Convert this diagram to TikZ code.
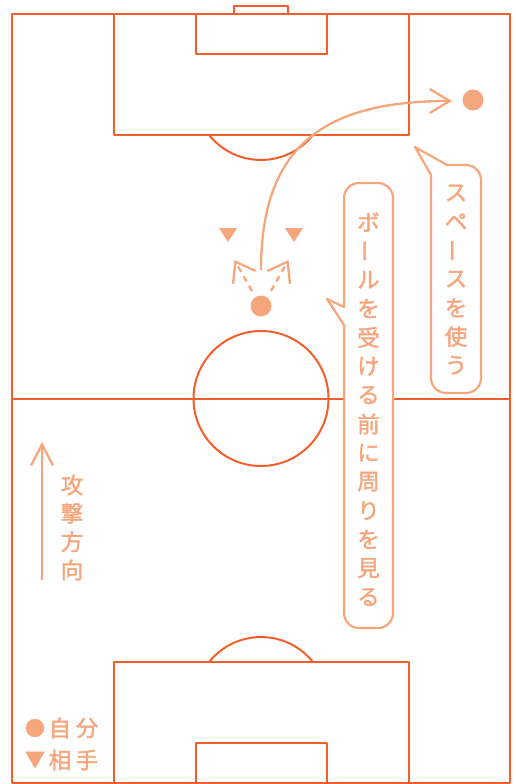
\documentclass[tikz,border=0pt]{standalone}
\usepackage{fontspec}
\newfontfamily\jpfont[FakeBold=1.6]{Noto Sans CJK JP}
\usetikzlibrary{arrows.meta}
\definecolor{fieldc}{HTML}{F25F2C}
\definecolor{notec}{HTML}{F6A67D}
\newcommand\jpvbar{\rotatebox[origin=c]{90}{ー}}
\begin{document}
\begin{tikzpicture}[x=1pt,y=-1pt,line join=round,
  field/.style={draw=fieldc,line width=2pt},
  note/.style={draw=notec,line width=2.3pt},
  bubble/.style={draw=notec,line width=2.2pt,fill=white},
  jch/.style={text=notec,font=\jpfont\fontsize{22.5}{22.5}\selectfont,inner sep=0pt},
  jsym/.style={text=notec,font=\jpfont\fontsize{20}{20}\selectfont,inner sep=0pt},
  sight/.style={note,dash pattern=on 6pt off 5pt,-{Straight Barb[length=18pt,width=26pt]}}]
\useasboundingbox (0,0) rectangle (516,784);
% field
\draw[field] (12,14) rectangle (510,783);
\draw[field] (12,398.5) -- (510,398.5);
\draw[field] (261,398.5) circle (67.5);
\draw[field] (114,14) rectangle (409,135);
\draw[field] (196,14) rectangle (327,54);
\draw[field] (234,14) -- (234,6) -- (288,6) -- (288,14);
\draw[field] (313,135) arc[start angle=38.7,end angle=141.3,radius=66.6];
\draw[field] (114,662) rectangle (409,783);
\draw[field] (196,743) rectangle (327,783);
\draw[field] (313,662) arc[start angle=-38.7,end angle=-141.3,radius=66.6];
% players
\fill[notec] (261,306) circle (10.5);
\fill[notec] (473,100) circle (10.5);
\fill[notec] (219,228) -- (237,228) -- (228,242) -- cycle;
\fill[notec] (285,228) -- (303,228) -- (294,242) -- cycle;
% sight lines
\draw[sight] (252,291) -- (234.5,260);
\draw[sight] (271,291) -- (288.5,260);
% run
\draw[note,-{Straight Barb[length=20pt,width=24pt]}] (261,270) .. controls (261,145) and (325,101) .. (452,101);
% attack direction
\draw[note,-{Straight Barb[length=21pt,width=22pt]}] (42,580) -- (42,442);
\foreach \c [count=\i from 0] in {攻,撃,方,向}
  \node[jch] (ad\i) at (72,485+28.3*\i) {\c};
% bubble 1
\draw[bubble] (447,165) -- (466,165) arc[start angle=-90,end angle=0,radius=15]
  -- (481,378) arc[start angle=0,end angle=90,radius=15]
  -- (446,393) arc[start angle=90,end angle=180,radius=15]
  -- (431,175) -- (415,147) -- cycle;
\foreach \c [count=\i from 0] in {ス,ペ,{\jpvbar},ス,を,使,う}
  \node[jch] (sp\i) at (456,193+28.7*\i) {\c};
% bubble 2
\draw[bubble] (344,307) -- (327,299) -- (344,325)
  -- (344,613) arc[start angle=180,end angle=90,radius=15]
  -- (378,628) arc[start angle=90,end angle=0,radius=15]
  -- (393,198) arc[start angle=0,end angle=-90,radius=15]
  -- (359,183) arc[start angle=-90,end angle=-180,radius=15]
  -- cycle;
\foreach \c [count=\i from 0] in {ボ,{\jpvbar},ル,を,受,け,る,前,に,周,り,を,見,る}
  \node[jch] (bl\i) at (368.5,222+28.85*\i) {\c};
% legend
\node[jsym] (lg1) at (35,728) {●};
\node[jch] (lg2) at (60,728) {自};
\node[jch] (lg3) at (87,728) {分};
\node[jsym] (lg4) at (35,760) {▼};
\node[jch] (lg5) at (60,760) {相};
\node[jch] (lg6) at (87,760) {手};
\end{tikzpicture}
\end{document}
